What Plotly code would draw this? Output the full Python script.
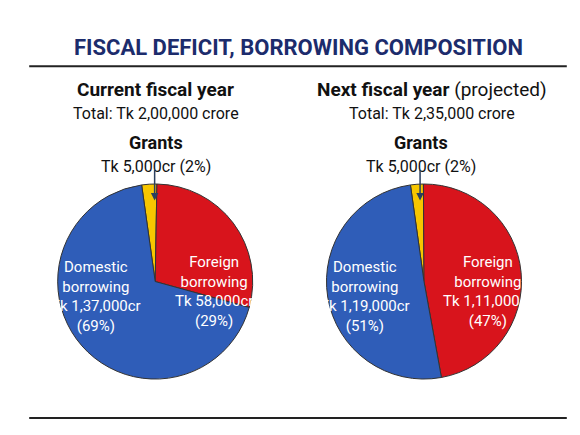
import plotly.graph_objects as go

labels = ["Grants", "Foreign borrowing", "Domestic borrowing"]
current_vals = [5000, 58000, 137000]
next_vals = [5000, 111000, 119000]
colors = ["#f7c600", "#d8141c", "#2f5db8"]

fig = go.Figure()
for vals, dom in [(current_vals, [0.02, 0.47]), (next_vals, [0.5, 0.95])]:
    fig.add_trace(go.Pie(values=vals, labels=labels, sort=False, direction="clockwise",
                         rotation=-8, textinfo="none", hoverinfo="label+value",
                         marker=dict(colors=colors, line=dict(color="#333", width=1)),
                         domain=dict(x=dom, y=[0.13, 0.6]), showlegend=False))

f = "Roboto"
ann = []
def t(x, y, s, size=15, color="#111"):
    ann.append(dict(x=x, y=y, xref="paper", yref="paper", text=s, showarrow=False,
                    font=dict(family=f, size=size, color=color), xanchor="center",
                    yanchor="middle"))

t(0.5, 0.93, "<b>FISCAL DEFICIT, BORROWING COMPOSITION</b>", 22, "#1c2c6c")
t(0.246, 0.827, "<b>Current fiscal year</b>", 19)
t(0.246, 0.771, "Total: Tk 2,00,000 crore", 16)
t(0.246, 0.699, "<b>Grants</b>", 18)
t(0.246, 0.643, "Tk 5,000cr (2%)", 16)
t(0.74, 0.827, "<b>Next fiscal year</b> (projected)", 19)
t(0.74, 0.771, "Total: Tk 2,35,000 crore", 16)
t(0.72, 0.699, "<b>Grants</b>", 18)
t(0.72, 0.643, "Tk 5,000cr (2%)", 16)
t(0.139, 0.33, "Domestic<br>borrowing<br>Tk 1,37,000cr<br>(69%)", 15, "white")
t(0.35, 0.34, "Foreign<br>borrowing<br>Tk 58,000cr<br>(29%)", 15, "white")
t(0.62, 0.33, "Domestic<br>borrowing<br>Tk 1,19,000cr<br>(51%)", 15, "white")
t(0.84, 0.34, "Foreign<br>borrowing<br>Tk 1,11,000cr<br>(47%)", 15, "white")
for x in (0.244, 0.718):
    ann.append(dict(x=x, y=0.56, ax=0, ay=-32, xref="paper", yref="paper",
                    showarrow=True, arrowhead=2, arrowwidth=1.5, text=""))

fig.update_layout(width=580, height=435, margin=dict(l=10, r=10, t=10, b=10),
                  paper_bgcolor="white", annotations=ann,
                  shapes=[dict(type="line", xref="paper", yref="paper", x0=0.02, x1=0.98,
                               y0=0.884, y1=0.884, line=dict(color="#222", width=2)),
                          dict(type="line", xref="paper", yref="paper", x0=0.02, x1=0.98,
                               y0=0.036, y1=0.036, line=dict(color="#222", width=2))])
fig.write_html("out.html")
